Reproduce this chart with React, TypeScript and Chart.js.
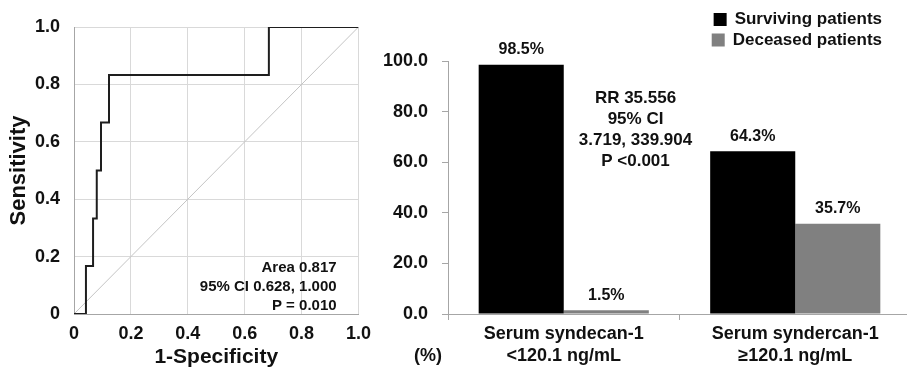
import React, { useEffect, useRef } from "react";
import { Chart, registerables } from "chart.js";

Chart.register(...registerables);

// ---------- Data: ROC curve (left panel) ----------
const rocFpr = [0, 0.042, 0.042, 0.067, 0.067, 0.08, 0.08, 0.095, 0.095, 0.123, 0.123, 0.685, 0.685, 1.0];
const rocTpr = [0, 0, 0.167, 0.167, 0.333, 0.333, 0.5, 0.5, 0.667, 0.667, 0.833, 0.833, 1.0, 1.0];
const refFpr = [0, 1];
const refTpr = [0, 1];
const rocTicks = [0, 0.2, 0.4, 0.6, 0.8, 1.0];
const rocNotes = ["Area 0.817", "95% CI 0.628, 1.000", "P = 0.010"];
const rocXTitle = "1-Specificity";
const rocYTitle = "Sensitivity";

// ---------- Data: bar chart (right panel) ----------
const barCategories = [
  ["Serum syndecan-1", "<120.1 ng/mL"],
  ["Serum syndercan-1", "≥120.1 ng/mL"],
];
const seriesNames = ["Surviving patients", "Deceased patients"];
const survivingValues = [98.5, 64.3];
const deceasedValues = [1.5, 35.7];
const barTicks = [0, 20, 40, 60, 80, 100];
const rrNotes = ["RR 35.556", "95% CI", "3.719, 339.904", "P <0.001"];
const unitLabel = "(%)";

const FONT = "'Liberation Sans', Arial, Helvetica, sans-serif";
const AXIS_GRAY = "#a6a6a6";
const GRID_GRAY = "#d9d9d9";
const BAR_COLORS = ["#000000", "#808080"];

function RocChart() {
  const ref = useRef<HTMLCanvasElement | null>(null);
  useEffect(() => {
    const notesPlugin = {
      id: "rocNotes",
      afterDraw(chart: any) {
        const { ctx, scales } = chart;
        ctx.save();
        ctx.font = `bold 15px ${FONT}`;
        ctx.fillStyle = "#111";
        ctx.textAlign = "right";
        ctx.textBaseline = "middle";
        const x = scales.x.getPixelForValue(0.923);
        const y0 = scales.y.getPixelForValue(0.16);
        rocNotes.forEach((t, i) => ctx.fillText(t, x, y0 + i * 19));
        ctx.restore();
      },
    };
    const chart = new Chart(ref.current as HTMLCanvasElement, {
      type: "scatter",
      data: {
        datasets: [
          {
            label: "ROC",
            data: rocFpr.map((x, i) => ({ x, y: rocTpr[i] })),
            showLine: true,
            borderColor: "#1e1e1e",
            borderWidth: 2,
            pointRadius: 0,
            fill: false,
          },
          {
            label: "Reference",
            data: refFpr.map((x, i) => ({ x, y: refTpr[i] })),
            showLine: true,
            borderColor: "#c4c4c4",
            borderWidth: 1,
            pointRadius: 0,
            fill: false,
          },
        ],
      },
      options: {
        animation: false,
        responsive: false,
        layout: { padding: { top: 27, right: 20, left: 0, bottom: 0 } },
        plugins: { legend: { display: false }, tooltip: { enabled: false } },
        scales: {
          x: {
            type: "linear",
            min: 0,
            max: 1,
            afterBuildTicks: (s: any) => {
              s.ticks = rocTicks.map((v) => ({ value: v }));
            },
            afterFit: (s: any) => {
              s.height = 56;
            },
            grid: { color: GRID_GRAY, drawTicks: false },
            border: { color: AXIS_GRAY, width: 1 },
            ticks: {
              padding: 9,
              color: "#111",
              font: { family: FONT, size: 18, weight: "bold" },
              callback: (v: any) => (v === 0 ? "0" : Number(v).toFixed(1)),
            },
            title: {
              display: true,
              text: rocXTitle,
              color: "#111",
              font: { family: FONT, size: 21, weight: "bold" },
              padding: { top: 0, bottom: 0 },
            },
          },
          y: {
            type: "linear",
            min: 0,
            max: 1,
            afterBuildTicks: (s: any) => {
              s.ticks = rocTicks.map((v) => ({ value: v }));
            },
            afterFit: (s: any) => {
              s.width = 74;
            },
            grid: { color: GRID_GRAY, drawTicks: false },
            border: { color: AXIS_GRAY, width: 1 },
            ticks: {
              padding: 14,
              color: "#111",
              font: { family: FONT, size: 18, weight: "bold" },
              callback: (v: any) => (v === 0 ? "0" : Number(v).toFixed(1)),
            },
            title: {
              display: true,
              text: rocYTitle,
              color: "#111",
              font: { family: FONT, size: 22, weight: "bold" },
              padding: { top: 6, bottom: 0 },
            },
          },
        },
      },
      plugins: [notesPlugin],
    } as any);
    return () => chart.destroy();
  }, []);
  return (
    <canvas
      ref={ref}
      width={380}
      height={370}
      style={{ position: "absolute", left: 0, top: 0, width: 380, height: 370 }}
    />
  );
}

function BarPanel() {
  const ref = useRef<HTMLCanvasElement | null>(null);
  useEffect(() => {
    const labelsPlugin = {
      id: "barValueLabels",
      afterDatasetsDraw(chart: any) {
        const { ctx } = chart;
        ctx.save();
        ctx.font = `bold 16px ${FONT}`;
        ctx.fillStyle = "#111";
        ctx.textAlign = "center";
        ctx.textBaseline = "middle";
        chart.data.datasets.forEach((ds: any, di: number) => {
          const meta = chart.getDatasetMeta(di);
          meta.data.forEach((bar: any, i: number) => {
            ctx.fillText(`${Number(ds.data[i]).toFixed(1)}%`, bar.x, bar.y - 15);
          });
        });
        ctx.restore();
      },
    };
    const notesPlugin = {
      id: "rrNotes",
      afterDraw(chart: any) {
        const { ctx, chartArea, scales } = chart;
        ctx.save();
        ctx.fillStyle = "#111";
        ctx.textBaseline = "middle";
        // RR annotation
        ctx.font = `bold 17px ${FONT}`;
        ctx.textAlign = "center";
        const cx = chartArea.left + (chartArea.right - chartArea.left) * 0.405;
        const y0 = scales.y.getPixelForValue(85.3);
        rrNotes.forEach((t, i) => ctx.fillText(t, cx, y0 + i * 21));
        // unit label
        ctx.font = `bold 18px ${FONT}`;
        ctx.textAlign = "right";
        ctx.fillText(unitLabel, chartArea.left - 6, 356);
        // legend
        ctx.font = `bold 17px ${FONT}`;
        const rightEdge = 502;
        chart.data.datasets.forEach((ds: any, i: number) => {
          const yc = 19.5 + i * 20.5;
          ctx.textAlign = "right";
          ctx.fillStyle = "#111";
          ctx.fillText(ds.label, rightEdge, yc);
          const w = ctx.measureText(ds.label).width;
          ctx.fillStyle = ds.backgroundColor;
          ctx.fillRect(rightEdge - w - 8 - 13, yc - 6.5, 13, 13);
        });
        ctx.restore();
      },
    };
    const chart = new Chart(ref.current as HTMLCanvasElement, {
      type: "bar",
      data: {
        labels: barCategories,
        datasets: [
          {
            label: seriesNames[0],
            data: survivingValues,
            backgroundColor: BAR_COLORS[0],
            categoryPercentage: 0.735,
            barPercentage: 1.0,
          },
          {
            label: seriesNames[1],
            data: deceasedValues,
            backgroundColor: BAR_COLORS[1],
            categoryPercentage: 0.735,
            barPercentage: 1.0,
          },
        ],
      },
      options: {
        animation: false,
        responsive: false,
        layout: { padding: { top: 61, right: 9, left: 0, bottom: 0 } },
        plugins: { legend: { display: false }, tooltip: { enabled: false } },
        scales: {
          x: {
            afterFit: (s: any) => {
              s.height = 56;
            },
            grid: { drawOnChartArea: false, drawTicks: true, tickLength: 6, color: AXIS_GRAY, offset: true },
            border: { color: AXIS_GRAY, width: 1 },
            ticks: {
              padding: 4,
              color: "#111",
              font: { family: FONT, size: 18, weight: "bold", lineHeight: 1.17 },
            },
          },
          y: {
            min: 0,
            max: 100,
            afterBuildTicks: (s: any) => {
              s.ticks = barTicks.map((v) => ({ value: v }));
            },
            afterFit: (s: any) => {
              s.width = 68;
            },
            grid: { drawOnChartArea: false, drawTicks: true, tickLength: 6, color: AXIS_GRAY },
            border: { color: AXIS_GRAY, width: 1 },
            ticks: {
              padding: 14,
              color: "#111",
              font: { family: FONT, size: 18, weight: "bold" },
              callback: (v: any) => Number(v).toFixed(1),
            },
          },
        },
      },
      plugins: [labelsPlugin, notesPlugin],
    } as any);
    return () => chart.destroy();
  }, []);
  return (
    <canvas
      ref={ref}
      width={540}
      height={370}
      style={{ position: "absolute", left: 380, top: 0, width: 540, height: 370 }}
    />
  );
}

export default function App() {
  return (
    <div
      style={{
        position: "fixed",
        left: 0,
        top: 0,
        width: 907,
        height: 370,
        overflow: "hidden",
        background: "#ffffff",
      }}
    >
      <RocChart />
      <BarPanel />
    </div>
  );
}
